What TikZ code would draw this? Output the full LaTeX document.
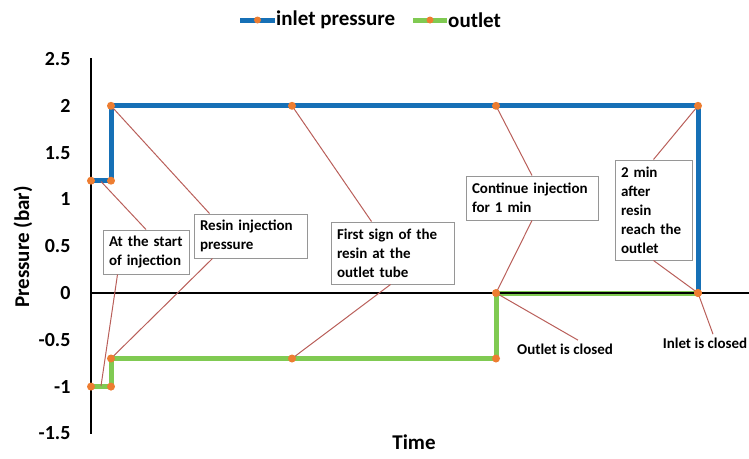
\documentclass[tikz,border=0pt]{standalone}
\usepackage{fontspec}
\setmainfont{Carlito}
\definecolor{inblue}{RGB}{22,112,182}
\definecolor{outgreen}{RGB}{128,202,82}
\definecolor{mark}{RGB}{237,125,49}
\definecolor{lead}{RGB}{185,95,90}
\definecolor{boxgray}{RGB}{150,150,150}
\begin{document}
\begin{tikzpicture}[x=1pt,y=-1pt,
  series/.style={line width=5pt},
  dot/.style={circle, fill=mark, inner sep=0pt, minimum size=8pt},
  leader/.style={draw=lead, line width=1pt},
  callout/.style={draw=boxgray, line width=1pt, fill=white, inner xsep=6pt, inner ysep=3pt, align=left, font=\fontsize{15}{19}\selectfont\bfseries},
  ticklab/.style={anchor=east, font=\fontsize{20}{24}\selectfont\bfseries},
  note/.style={font=\fontsize{15}{19}\selectfont\bfseries},
  axtitle/.style={font=\fontsize{21}{25}\selectfont\bfseries},
  axisline/.style={draw=black, line width=1.4pt}
  ]
\useasboundingbox (0,0) rectangle (749,458);

% data points
\coordinate (i1) at (91,180.7);
\coordinate (i2) at (111,180.7);
\coordinate (i3) at (111,105.8);
\coordinate (i4) at (292,105.8);
\coordinate (i5) at (496,105.8);
\coordinate (i6) at (698,105.8);
\coordinate (i7) at (698,293);
\coordinate (o1) at (91,386.6);
\coordinate (o2) at (111,386.6);
\coordinate (o3) at (111,358.5);
\coordinate (o4) at (292,358.5);
\coordinate (o5) at (496,358.5);
\coordinate (o6) at (496,293);
\coordinate (o7) at (698,293);
\coordinate (imid) at (101,181.5);
\coordinate (omid) at (101,386);

% axes ends
\coordinate (ytop) at (91,58);
\coordinate (ybot) at (91,434);
\coordinate (xl) at (91,293);
\coordinate (xr) at (749,293);

% series
\draw[series, inblue] (i1) -- (i2) -- (i3) -- (i4) -- (i5) -- (i6) -- (i7);
\draw[series, outgreen] (o1) -- (o2) -- (o3) -- (o4) -- (o5) -- (o6) -- (o7);

% axes
\draw[axisline] (ytop) -- (ybot);
\draw[axisline] (xl) -- (xr);

% tick labels
\foreach \v/\t in {58.6/2.5, 105.8/2, 152.6/1.5, 199.4/1, 246.2/0.5, 293/0, 339.8/-0.5, 386.6/-1, 433.4/-1.5}
  \node[ticklab] at (74,\v) {\t};

% axis titles
\node[axtitle, rotate=90] (ytitle) at (23,247) {Pressure (bar)};
\node[axtitle] (xtitle) at (414,442) {Time};

% legend
\coordinate (lb1) at (240,20);
\coordinate (lb2) at (275,20);
\coordinate (lg1) at (413,20);
\coordinate (lg2) at (447,20);
\draw[series, inblue] (lb1) -- (lb2);
\node[dot, minimum size=7pt] (lbd) at (257.5,20) {};
\node[axtitle, anchor=west, inner xsep=1pt] (lbt) at (lb2) {inlet pressure};
\draw[series, outgreen] (lg1) -- (lg2);
\node[dot, minimum size=7pt] (lgd) at (430,20) {};
\node[axtitle, anchor=west, inner xsep=1pt] (lgt) at (lg2) {outlet};

% callout boxes
\node[callout, text width=74pt, minimum height=44pt] (startbox) at (146,252) {At the start\\of injection};
\node[callout, text width=101pt, minimum height=44pt] (resinbox) at (250.5,236) {Resin injection\\pressure};
\node[callout, text width=111pt, minimum height=62pt] (firstbox) at (392.5,253) {First sign of the\\resin at the\\outlet tube};
\node[callout, text width=120pt, minimum height=44pt] (contbox) at (532,198) {Continue injection\\for 1 min};
\node[callout, text width=65pt, minimum height=100pt] (twobox) at (653.5,210) {2 min\\after\\resin\\reach the\\outlet};
\node[note] (outclosed) at (565,349) {Outlet is closed};
\node[note] (inclosed) at (705,343) {Inlet is closed};

% leader lines
\draw[leader] (imid) -- (startbox.north);
\draw[leader] (omid) -- ([xshift=15pt]startbox.south west);
\draw[leader] (i3) -- ([xshift=16pt]resinbox.north west);
\draw[leader] (o3) -- ([xshift=19pt]resinbox.south west);
\draw[leader] (i4) -- ([xshift=41pt]firstbox.north west);
\draw[leader] (o4) -- ([xshift=-2pt]firstbox.south);
\draw[leader] (i5) -- (contbox.north);
\draw[leader] (o6) -- (contbox.south);
\draw[leader] (i6) -- (twobox.north);
\draw[leader] (i7) -- (twobox.south);
\draw[leader] (o6) -- ([xshift=13pt]outclosed.north);
\draw[leader] (o7) -- ([xshift=8pt]inclosed.north);

% markers
\foreach \p in {i1,i2,i3,i4,i5,i6,i7,o1,o2,o3,o4,o5,o6,o7}
  \node[dot] at (\p) {};
\end{tikzpicture}
\end{document}
